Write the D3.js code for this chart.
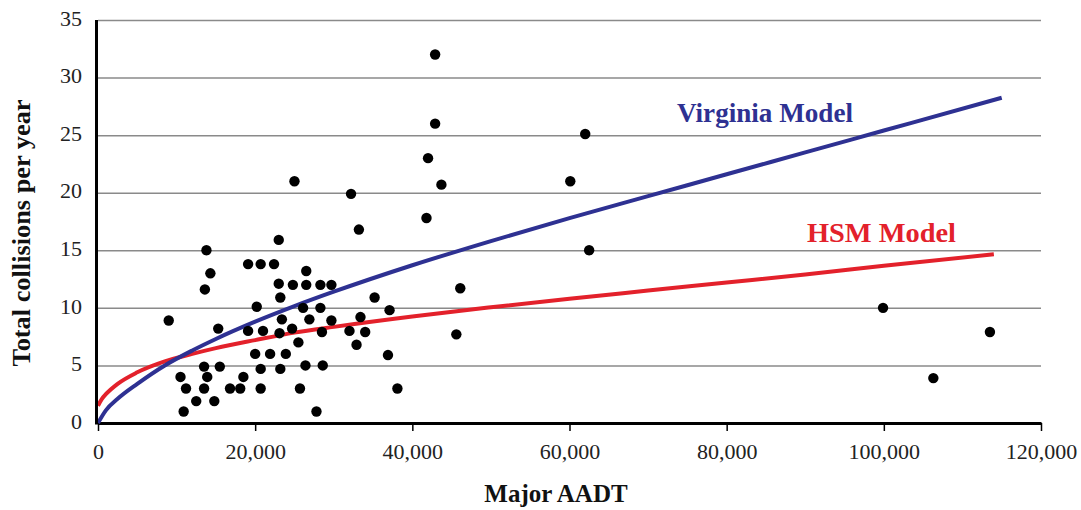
<!DOCTYPE html>
<html>
<head>
<meta charset="utf-8">
<script src="https://cdn.jsdelivr.net/npm/d3@7"></script>
<style>
  html, body { margin: 0; padding: 0; background: #fff; }
  svg { display: block; }
  text { font-family: "Liberation Serif", "Times New Roman", serif; }
</style>
</head>
<body>
<svg id="chart" width="1081" height="510"></svg>
<script>
// ---- Data ----
const aadt = [9000,10500,10900,11200,12500,13500,13500,13600,13800,13900,14300,14800,15300,15500,16800,18100,18500,19100,19100,20000,20200,20700,21000,20700,20700,21900,22400,23000,23000,23200,23400,23100,23200,23900,24800,24700,25000,25500,25700,26100,26500,26500,26400,26900,27800,28300,28300,28500,28600,29700,29700,32000,32200,32900,33200,33400,34000,35200,36900,37100,38100,41800,42000,42900,42900,43700,45600,46100,60100,62000,62500,99900,106300,113500];
const collisions = [8.9,4.0,1.0,3.0,1.9,3.0,4.9,11.6,15.0,4.0,13.0,1.9,8.2,4.9,3.0,3.0,4.0,13.8,8.0,6.0,10.1,13.8,8.0,4.7,3.0,6.0,13.8,15.9,12.1,10.9,9.0,7.8,4.7,6.0,12.0,8.2,21.0,7.0,3.0,10.0,13.2,12.0,5.0,9.0,1.0,12.0,10.0,7.9,5.0,12.0,8.9,8.0,19.9,6.8,16.8,9.2,7.9,10.9,5.9,9.8,3.0,17.8,23.0,32.0,26.0,20.7,7.7,11.7,21.0,25.1,15.0,10.0,3.9,7.9];

const virginiaX = [0,1000,2500,5000,8500,12000,15000,20000,25000,30000,40000,50000,60000,70000,80000,90000,100000,115000];
const virginiaY = [0,1.1,2.1,3.4,5.0,6.3,7.3,8.8,10.15,11.4,13.7,15.8,17.8,19.7,21.6,23.5,25.4,28.25];

const hsmX = [0,500,1000,2500,5000,8500,12000,15000,20000,25000,30000,40000,50000,60000,70000,80000,90000,100000,114000];
const hsmY = [1.5,2.1,2.5,3.4,4.4,5.35,6.0,6.5,7.2,7.85,8.35,9.25,10.05,10.8,11.5,12.2,12.9,13.65,14.65];

const xTicks = [0,20000,40000,60000,80000,100000,120000];
const yTicks = [0,5,10,15,20,25,30,35];
const xTitle = "Major AADT";
const yTitle = "Total collisions per year";
const seriesLabels = ["Virginia Model", "HSM Model"];

(function () {
  // ---- Layout ----
  const svg = d3.select("#chart");
  const mLeft = 98, mRight = 1041, mTop = 20, mBottom = 423;
  const x = d3.scaleLinear().domain([0, 120000]).range([mLeft, mRight]);
  const y = d3.scaleLinear().domain([0, 35]).range([mBottom, mTop]);

  const blue = "#2e3192", red = "#e3212b";

  // gridlines
  const grid = svg.append("g")
    .attr("transform", `translate(${mLeft},0)`)
    .call(d3.axisLeft(y).tickValues(yTicks.filter(d => d > 0)).tickSize(-(mRight - mLeft)).tickFormat(""));
  grid.select(".domain").remove();
  grid.selectAll("line").attr("stroke", "#8a8a8a").attr("stroke-width", 1.5);

  // y tick labels
  svg.append("g").selectAll("text").data(yTicks).join("text")
    .attr("x", 82).attr("y", d => y(d) - 2)
    .attr("dy", "0.35em")
    .attr("text-anchor", "end")
    .attr("font-size", 22)
    .attr("fill", "#222")
    .text(d => d);

  // x axis
  const xAxis = svg.append("g")
    .attr("transform", `translate(0,${mBottom})`)
    .call(d3.axisBottom(x).tickValues(xTicks).tickSize(8).tickSizeOuter(0)
      .tickFormat(d => d3.format(",")(d)));
  xAxis.select(".domain").attr("stroke", "#000").attr("stroke-width", 3);
  xAxis.selectAll(".tick line").attr("stroke", "#000").attr("stroke-width", 1.5);
  xAxis.selectAll(".tick text")
    .attr("font-family", "'Liberation Serif', 'Times New Roman', serif")
    .attr("font-size", 22).attr("fill", "#222")
    .attr("y", 20).attr("dy", "0.71em");

  // model curves
  const line = d3.line().x(d => x(d[0])).y(d => y(d[1])).curve(d3.curveMonotoneX);
  svg.append("path")
    .datum(hsmX.map((v, i) => [v, hsmY[i]]))
    .attr("d", line).attr("fill", "none")
    .attr("stroke", red).attr("stroke-width", 4);
  svg.append("path")
    .datum(virginiaX.map((v, i) => [v, virginiaY[i]]))
    .attr("d", line).attr("fill", "none")
    .attr("stroke", blue).attr("stroke-width", 4);

  // y axis line
  svg.append("line")
    .attr("x1", mLeft - 1.5).attr("x2", mLeft - 1.5)
    .attr("y1", mTop).attr("y2", mBottom + 1.5)
    .attr("stroke", "#000").attr("stroke-width", 3);

  // scatter points
  svg.append("g").selectAll("circle").data(aadt.map((v, i) => [v, collisions[i]])).join("circle")
    .attr("cx", d => x(d[0])).attr("cy", d => y(d[1]))
    .attr("r", 5.2).attr("fill", "#000");

  // series labels
  svg.append("text").attr("x", 677).attr("y", 122)
    .attr("font-size", 28).attr("font-weight", "bold").attr("fill", blue)
    .attr("textLength", 176).attr("lengthAdjust", "spacingAndGlyphs")
    .text(seriesLabels[0]);
  svg.append("text").attr("x", 807).attr("y", 242)
    .attr("font-size", 28).attr("font-weight", "bold").attr("fill", red)
    .attr("textLength", 149).attr("lengthAdjust", "spacingAndGlyphs")
    .text(seriesLabels[1]);

  // axis titles
  svg.append("text").attr("x", 556).attr("y", 502)
    .attr("text-anchor", "middle").attr("font-size", 25).attr("font-weight", "bold").attr("fill", "#111")
    .text(xTitle);
  svg.append("text")
    .attr("transform", "translate(30,233) rotate(-90)")
    .attr("text-anchor", "middle").attr("font-size", 25).attr("font-weight", "bold").attr("fill", "#111")
    .attr("textLength", 267).attr("lengthAdjust", "spacingAndGlyphs")
    .text(yTitle);
})();
</script>
</body>
</html>
